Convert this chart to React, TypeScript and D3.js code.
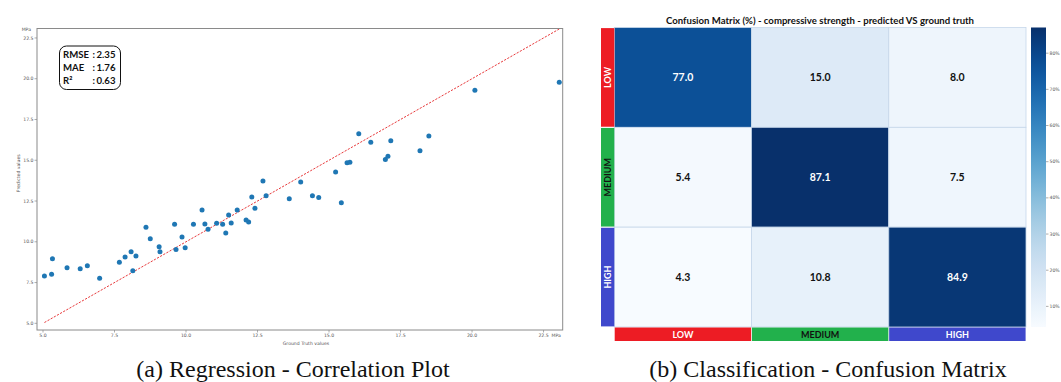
import React from 'react';
import * as d3 from 'd3';

// regression plot data (MPa)
const gtValues = [5.05, 5.30, 5.33, 5.84, 6.30, 6.55, 6.98, 7.67, 7.87, 8.08, 8.14, 8.25, 8.60, 8.75, 9.06, 9.09,
  9.60, 9.65, 9.86, 9.97, 10.26, 10.56, 10.66, 10.77, 11.07, 11.28, 11.39, 11.49, 11.58, 11.79, 12.10, 12.19,
  12.30, 12.41, 12.69, 12.80, 13.61, 14.01, 14.42, 14.64, 15.23, 15.43, 15.63, 15.73, 16.04, 16.46, 16.97,
  17.06, 17.16, 18.18, 18.49, 20.10, 23.05];
const predValues = [7.90, 8.01, 8.96, 8.41, 8.35, 8.53, 7.76, 8.74, 9.07, 9.39, 8.23, 9.13, 10.89, 10.19, 9.70, 9.39,
  11.07, 9.52, 10.29, 9.64, 11.07, 11.95, 11.09, 10.77, 11.13, 11.07, 10.54, 11.64, 11.15, 11.95, 11.34, 11.21,
  12.75, 12.06, 13.73, 12.83, 12.64, 13.67, 12.83, 12.71, 14.28, 12.40, 14.85, 14.88, 16.63, 16.10, 15.04,
  15.25, 16.20, 15.59, 16.49, 19.29, 19.79];
const axisTicks = [5, 7.5, 10, 12.5, 15, 17.5, 20, 22.5];
const metricLabels = ['RMSE', 'MAE', 'R²'];
const metricValues = ['2.35', '1.76', '0.63'];

// confusion matrix data (%)
const classes = ['LOW', 'MEDIUM', 'HIGH'];
const classColors = ['#ed1c24', '#22b14c', '#3f48cc'];
const classTextColors = ['#fff', '#111', '#fff'];
const confusion = [
  [77.0, 15.0, 8.0],
  [5.4, 87.1, 7.5],
  [4.3, 10.8, 84.9],
];
const cbTicks = [10, 20, 30, 40, 50, 60, 70, 80];

const W = 1061;
const H = 382;

function RegressionPlot() {
  const left = 37, right = 562.7, top = 28.5, bottom = 330;
  const x = d3.scaleLinear().domain([4.79, 23.17]).range([left, right]);
  const y = d3.scaleLinear().domain([4.59, 23.08]).range([bottom, top]);
  const [lo, hi] = d3.extent(gtValues) as [number, number];
  const tickFont = { fontFamily: 'DejaVu Sans', fontSize: 4.6, fill: '#555' };
  return (
    <g>
      {/* identity line */}
      <line x1={x(lo)} y1={y(lo)} x2={x(hi)} y2={y(hi)} stroke="#e8393b" strokeWidth={1} strokeDasharray="2.2,1.4" />
      {gtValues.map((v, i) => (
        <circle key={i} cx={x(v)} cy={y(predValues[i])} r={2.5} fill="#1f77b4" />
      ))}
      <rect x={left} y={top} width={right - left} height={bottom - top} fill="none" stroke="#8a8a8a" strokeWidth={1} />
      {axisTicks.map(t => (
        <g key={'x' + t}>
          <line x1={x(t)} x2={x(t)} y1={bottom} y2={bottom + 2.5} stroke="#8a8a8a" strokeWidth={0.7} />
          <text x={x(t)} y={bottom + 7} textAnchor="middle" {...tickFont}>{t.toFixed(1)}</text>
        </g>
      ))}
      {axisTicks.map(t => (
        <g key={'y' + t}>
          <line x1={left - 2.5} x2={left} y1={y(t)} y2={y(t)} stroke="#8a8a8a" strokeWidth={0.7} />
          <text x={left - 3.5} y={y(t) + 1.6} textAnchor="end" {...tickFont}>{t.toFixed(1)}</text>
        </g>
      ))}
      <text x={x(22.5) + 8} y={bottom + 7} {...tickFont}>MPa</text>
      <text x={left - 6} y={top + 2} textAnchor="end" {...tickFont}>MPa</text>
      <text x={306} y={bottom + 14.5} textAnchor="middle" {...tickFont}>Ground Truth values</text>
      <text transform={`translate(19.5,${(top + bottom) / 2 - 6}) rotate(-90)`} textAnchor="middle" {...tickFont}>Predicted values</text>
      {/* metrics box */}
      <rect x={59.5} y={46} width={61} height={43.5} rx={7} fill="#fff" stroke="#111" strokeWidth={1} />
      {metricLabels.map((m, i) => (
        <g key={m} fontFamily="Lato" fontWeight="bold" fontSize={9.6} fill="#111">
          <text x={63} y={57.8 + i * 13}>{m}</text>
          <text x={92.5} y={57.8 + i * 13}>:</text>
          <text x={96.5} y={57.8 + i * 13}>{metricValues[i]}</text>
        </g>
      ))}
    </g>
  );
}

function ConfusionMatrix() {
  const left = 614.3, right = 1026, top = 27.5, bottom = 327;
  const xb = d3.scaleBand().domain(classes).range([left, right]);
  const yb = d3.scaleBand().domain(classes).range([top, bottom]);
  const vmin = d3.min(confusion.flat()) as number;
  const vmax = d3.max(confusion.flat()) as number;
  const color = d3.scaleSequential(d3.interpolateBlues).domain([vmin, vmax]);
  const cb = d3.scaleLinear().domain([vmin, vmax]).range([bottom, top]);
  const stops = d3.range(0, 1.0001, 0.05);
  return (
    <g>
      <defs>
        <linearGradient id="cbGrad" x1="0" y1="1" x2="0" y2="0">
          {stops.map(s => <stop key={s} offset={s} stopColor={d3.interpolateBlues(s)} />)}
        </linearGradient>
      </defs>
      <text x={820} y={23.5} textAnchor="middle" fontFamily="Lato" fontWeight="bold" fontSize={9.6} fill="#111">
        Confusion Matrix (%) - compressive strength - predicted VS ground truth
      </text>
      {confusion.map((row, r) => row.map((v, c) => (
        <g key={r + '-' + c}>
          <rect x={xb(classes[c])} y={yb(classes[r])} width={xb.bandwidth()} height={yb.bandwidth()}
            fill={color(v)} stroke="#c6d7ea" strokeWidth={0.8} />
          <text x={(xb(classes[c]) as number) + xb.bandwidth() / 2} y={(yb(classes[r]) as number) + yb.bandwidth() / 2 + 3.5}
            textAnchor="middle" fontFamily="Lato" fontWeight="bold" fontSize={10.5} fill={v > 50 ? '#fff' : '#111'}>
            {v.toFixed(1)}
          </text>
        </g>
      )))}
      {/* row label bars */}
      {classes.map((k, i) => (
        <g key={'r' + k}>
          <rect x={601} y={(yb(k) as number) + 0.6} width={13.3} height={yb.bandwidth() - 1.2} fill={classColors[i]} />
          <text transform={`translate(610.8,${(yb(k) as number) + yb.bandwidth() / 2}) rotate(-90)`} textAnchor="middle"
            fontFamily="Lato" fontWeight="bold" fontSize={9} fill={classTextColors[i]}>{k}</text>
        </g>
      ))}
      {/* column label bars */}
      {classes.map((k, i) => (
        <g key={'c' + k}>
          <rect x={(xb(k) as number) + 0.4} y={bottom + 0.5} width={xb.bandwidth() - 0.8} height={13.5} fill={classColors[i]} />
          <text x={(xb(k) as number) + xb.bandwidth() / 2} y={bottom + 10.5} textAnchor="middle"
            fontFamily="Lato" fontWeight="bold" fontSize={9} fill={classTextColors[i]}>{k}</text>
        </g>
      ))}
      {/* colorbar */}
      <rect x={1031} y={top} width={15} height={bottom - top} fill="url(#cbGrad)" />
      {cbTicks.map(t => (
        <g key={t}>
          <line x1={1046} x2={1048.5} y1={cb(t)} y2={cb(t)} stroke="#777" strokeWidth={0.6} />
          <text x={1049.5} y={cb(t) + 1.6} fontFamily="DejaVu Sans" fontSize={4.6} fill="#555">{t + '%'}</text>
        </g>
      ))}
    </g>
  );
}

export default function App() {
  return (
    <div style={{ position: 'absolute', left: 0, top: 0, width: W, height: H, background: '#fff' }}>
      <svg width={W} height={H} viewBox={`0 0 ${W} ${H}`}>
        <rect width={W} height={H} fill="#fff" />
        <RegressionPlot />
        <ConfusionMatrix />
        <text x={293} y={377} textAnchor="middle" fontFamily="Liberation Serif" fontSize={24} fill="#111">(a) Regression - Correlation Plot</text>
        <text x={828} y={377} textAnchor="middle" fontFamily="Liberation Serif" fontSize={24} fill="#111">(b) Classification - Confusion Matrix</text>
      </svg>
    </div>
  );
}
